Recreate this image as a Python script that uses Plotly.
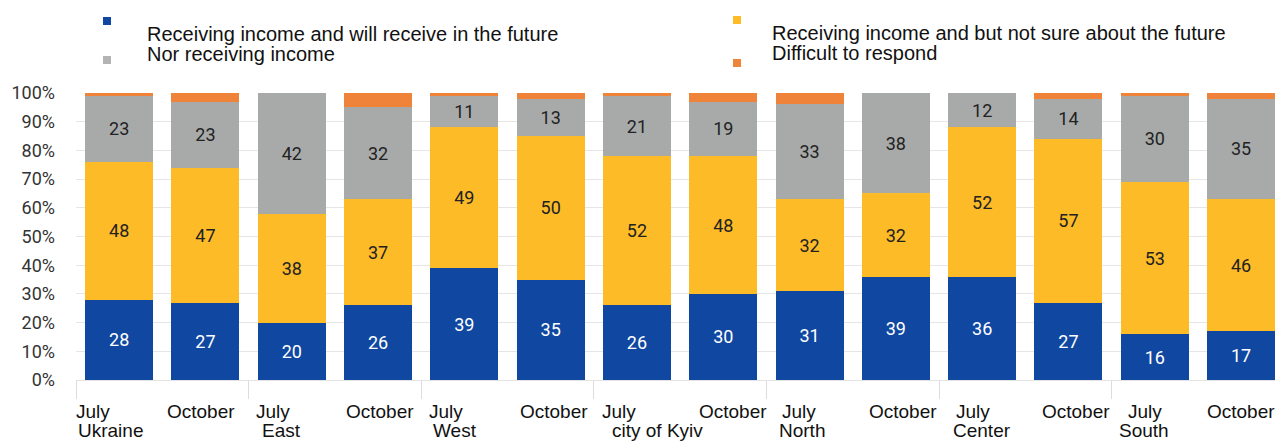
import plotly.graph_objects as go

# ---- data -------------------------------------------------------------
periods = ["July", "October"] * 7
regions = ["Ukraine", "East", "West", "city of Kyiv", "North", "Center", "South"]

will_receive = [28, 27, 20, 26, 39, 35, 26, 30, 31, 39, 36, 27, 16, 17]
not_sure = [48, 47, 38, 37, 49, 50, 52, 48, 32, 32, 52, 57, 53, 46]
not_receiving = [23, 23, 42, 32, 11, 13, 21, 19, 33, 38, 12, 14, 30, 35]
difficult = [1, 3, 0, 5, 1, 2, 1, 3, 4, 0, 0, 2, 1, 2]

series_names = [
    "Receiving income and will receive in the future",
    "Receiving income and but not sure about the future",
    "Nor receiving income",
    "Difficult to respond",
]
y_tick_values = list(range(0, 101, 10))

# ---- styling / layout constants --------------------------------------
W, H = 1275, 443
PLOT_L, PLOT_R, PLOT_T, PLOT_B = 76, 1275, 93, 380
PLOT_W, PLOT_H = PLOT_R - PLOT_L, PLOT_B - PLOT_T

BLUE, YELLOW, GRAY, ORANGE = "#0f47a1", "#fdbb27", "#a8aaaa", "#f0833a"
LABEL_FONT = "Liberation Sans, Arial, sans-serif"
NUM_FONT = "Roboto, sans-serif"

n = len(periods)
x = list(range(n))
x_max = -0.5 + PLOT_W / 86.3  # category pitch of ~86 px, last bar meets the edge


def px_x(px):
    return (px - PLOT_L) / PLOT_W


def px_y(py):
    return (PLOT_B - py) / PLOT_H


fig = go.Figure()

stack = [
    (will_receive, series_names[0], BLUE, "white"),
    (not_sure, series_names[1], YELLOW, "#222222"),
    (not_receiving, series_names[2], GRAY, "#222222"),
    (difficult, series_names[3], ORANGE, "#222222"),
]
for vals, name, color, txt_color in stack:
    show_text = name != series_names[3]
    fig.add_trace(
        go.Bar(
            x=x,
            y=vals,
            name=name,
            marker=dict(color=color, line=dict(width=0)),
            text=[str(v) for v in vals] if show_text else None,
            textposition="inside" if show_text else "none",
            insidetextanchor="middle",
            textangle=0,
            textfont=dict(family=NUM_FONT, size=18, color=txt_color),
            hoverinfo="skip",
        )
    )

# ---- axis labels under the bars --------------------------------------
annotations = []
period_nudge = [-9, -4, -2, 2, -1, 3, -1, 10, 6, 7, 8, 8, 7, 0]
for i, p in enumerate(periods):
    annotations.append(
        dict(
            x=i, xref="x", y=px_y(424), yref="paper",
            text=p, showarrow=False, xanchor="left", yanchor="bottom",
            xshift=-34 + period_nudge[i] - 2,
            font=dict(family=LABEL_FONT, size=19, color="#111111"),
        )
    )
region_nudge = [-9, -10, -9, 21, -8, 0, -11]
for g, r in enumerate(regions):
    annotations.append(
        dict(
            x=2 * g, xref="x", y=px_y(443), yref="paper",
            text=r, showarrow=False, xanchor="center", yanchor="bottom",
            xshift=region_nudge[g],
            font=dict(family=LABEL_FONT, size=19, color="#111111"),
        )
    )

# ---- legend drawn as two columns --------------------------------------
legend_rows = [
    (series_names[0], BLUE, 107, 21, 145, 34),
    (series_names[2], "#b3b3b3", 107, 60, 145, 54),
    (series_names[1], YELLOW, 737, 20, 770, 33),
    (series_names[3], ORANGE, 737, 63, 770, 53),
]
shapes = []
for name, color, mx, my, tx, ty in legend_rows:
    shapes.append(
        dict(
            type="rect", xref="paper", yref="paper",
            x0=px_x(mx - 4), x1=px_x(mx + 4), y0=px_y(my - 4), y1=px_y(my + 4),
            fillcolor=color, line=dict(width=0),
        )
    )
    annotations.append(
        dict(
            x=px_x(tx), xref="paper", y=px_y(ty), yref="paper",
            text=name, showarrow=False, xanchor="left", yanchor="middle",
            font=dict(family=LABEL_FONT, size=20, color="#111111"),
        )
    )

fig.update_layout(
    width=W,
    height=H,
    barmode="stack",
    barnorm="percent",
    bargap=0.212,
    showlegend=False,
    plot_bgcolor="white",
    paper_bgcolor="white",
    margin=dict(l=PLOT_L, r=W - PLOT_R, t=PLOT_T, b=H - PLOT_B, pad=0),
    uniformtext=dict(mode="show", minsize=10),
    annotations=annotations,
    shapes=shapes,
    xaxis=dict(
        range=[-0.5, x_max],
        tickmode="array",
        tickvals=[k - 0.5 for k in range(0, n + 1, 2)],
        ticks="outside",
        ticklen=18,
        tickcolor="#dddddd",
        showticklabels=False,
        showgrid=False,
        zeroline=False,
        showline=True,
        linecolor="#e4e4e4",
    ),
    yaxis=dict(
        range=[0, 100],
        tickmode="array",
        tickvals=y_tick_values,
        ticktext=[f"{v}%" for v in y_tick_values],
        showgrid=True,
        gridcolor="#e6e6e6",
        gridwidth=1,
        zeroline=False,
        ticklabelstandoff=20,
        tickfont=dict(family=NUM_FONT, size=18, color="#333333"),
    ),
)

fig.write_html("out.html")
